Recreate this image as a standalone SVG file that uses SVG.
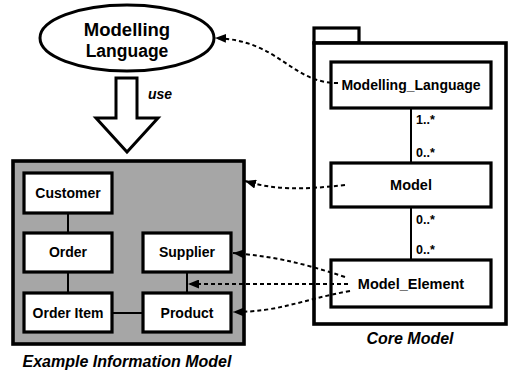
<svg xmlns="http://www.w3.org/2000/svg" width="509" height="378" viewBox="0 0 509 378">
  <style>
    .lbl { font-family: "Liberation Sans", Arial, sans-serif; font-weight: bold; fill: #000; text-anchor: middle; }
    .cap { font-family: "Liberation Sans", Arial, sans-serif; font-weight: bold; font-style: italic; fill: #000; text-anchor: middle; }
    .mult { font-family: "Liberation Sans", Arial, sans-serif; font-weight: bold; fill: #000; font-size: 12.5px; }
    .box { fill: #fff; stroke: #000; stroke-width: 3.2; }
    .solid { fill: none; stroke: #000; stroke-width: 2; }
    .dep { fill: none; stroke: #000; stroke-width: 2; stroke-dasharray: 4 3; marker-end: url(#head); }
  </style>
  <defs>
    <marker id="head" markerUnits="userSpaceOnUse" markerWidth="12" markerHeight="9" refX="11" refY="4.5" orient="auto">
      <path d="M0,0 L11,4.5 L0,9 z" fill="#000"/>
    </marker>
  </defs>

  <rect width="509" height="378" fill="#fff"/>

  <!-- Modelling Language ellipse -->
  <g id="modelling-language">
    <ellipse cx="127" cy="38" rx="87" ry="33" fill="#fff" stroke="#000" stroke-width="3"/>
    <text class="lbl" x="127" y="36" font-size="18.5">Modelling</text>
    <text class="lbl" x="127" y="57" font-size="17.5">Language</text>
  </g>

  <!-- "use" block arrow -->
  <g id="use-arrow">
    <polygon points="116,78 137,78 137,118 158,118 127,152 96,118 116,118" fill="#fff" stroke="#000" stroke-width="3" stroke-linejoin="miter"/>
    <text class="cap" x="160" y="99" font-size="14">use</text>
  </g>

  <!-- Example information model -->
  <g id="example-model">
    <rect x="13" y="161" width="231" height="183" fill="#a6a6a6" stroke="#000" stroke-width="3.6"/>
    <g class="links">
      <line class="solid" x1="68" y1="213" x2="68" y2="233"/>
      <line class="solid" x1="68" y1="272" x2="68" y2="293"/>
      <line class="solid" x1="112" y1="313" x2="143" y2="313"/>
      <line class="solid" x1="187" y1="272" x2="187" y2="293"/>
    </g>
    <g id="customer">
      <rect class="box" x="24" y="173" width="88" height="40"/>
      <text class="lbl" x="68" y="198" font-size="14">Customer</text>
    </g>
    <g id="order">
      <rect class="box" x="24" y="233" width="88" height="39"/>
      <text class="lbl" x="68" y="257" font-size="14">Order</text>
    </g>
    <g id="order-item">
      <rect class="box" x="24" y="293" width="88" height="39"/>
      <text class="lbl" x="68" y="318" font-size="14">Order Item</text>
    </g>
    <g id="supplier">
      <rect class="box" x="143" y="233" width="88" height="39"/>
      <text class="lbl" x="187" y="257" font-size="14">Supplier</text>
    </g>
    <g id="product">
      <rect class="box" x="143" y="293" width="88" height="39"/>
      <text class="lbl" x="187" y="318" font-size="14">Product</text>
    </g>
    <text class="cap" x="127" y="367" font-size="16">Example Information Model</text>
  </g>

  <!-- Core model package -->
  <g id="core-model">
    <rect x="314" y="28" width="45" height="15" fill="#fff" stroke="#000" stroke-width="3.2"/>
    <rect x="314" y="43" width="192" height="281" fill="#fff" stroke="#000" stroke-width="3.6"/>
    <line class="solid" x1="411" y1="108" x2="411" y2="163"/>
    <line class="solid" x1="411" y1="207" x2="411" y2="260"/>
    <text class="mult" x="416" y="124">1..*</text>
    <text class="mult" x="416" y="157">0..*</text>
    <text class="mult" x="416" y="224">0..*</text>
    <text class="mult" x="416" y="254">0..*</text>
    <g id="cm-modelling-language">
      <rect class="box" x="331" y="62" width="160" height="46"/>
      <text class="lbl" x="411" y="90" font-size="14">Modelling_Language</text>
    </g>
    <g id="cm-model">
      <rect class="box" x="331" y="163" width="160" height="44"/>
      <text class="lbl" x="411" y="190" font-size="14.5">Model</text>
    </g>
    <g id="cm-model-element">
      <rect class="box" x="331" y="260" width="160" height="47"/>
      <text class="lbl" x="411" y="289" font-size="14.5">Model_Element</text>
    </g>
    <text class="cap" x="410" y="344" font-size="16">Core Model</text>
  </g>

  <!-- Dependency connectors -->
  <g id="connectors">
    <path class="dep" d="M338,83 C290,83 280,40 215,38"/>
    <path class="dep" d="M345,185 C300,190 275,190 245,181"/>
    <path class="dep" d="M345,277 C300,262 270,256 233,253"/>
    <path class="dep" d="M348,284 L188,284"/>
    <path class="dep" d="M350,291 C300,300 280,312 233,312"/>
  </g>
</svg>
